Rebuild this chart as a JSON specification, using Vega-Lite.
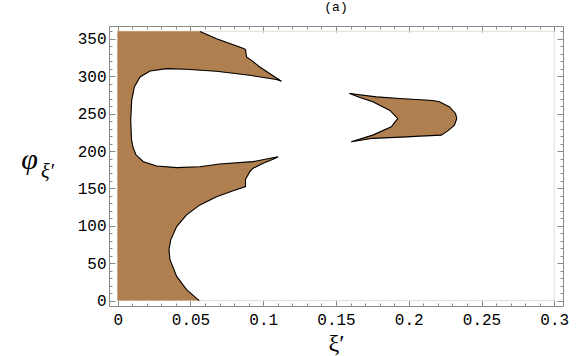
{
  "$schema": "https://vega.github.io/schema/vega-lite/v6.json",
  "width": 454,
  "height": 280,
  "autosize": "none",
  "padding": {"left": 109, "top": 26, "right": 13, "bottom": 50},
  "title": {"text": "(a)", "font": "Liberation Mono", "fontSize": 13, "fontWeight": "normal", "color": "black", "offset": 9},
  "config": {"view": {"stroke": "#8a8a8a", "strokeWidth": 1}},
  "datasets": {
    "box": [{"x": 0, "x2": 0.3, "y": 0, "y2": 360}],
    "regions": [
      {"poly": "L", "i": 1, "x": 0.056, "y": 0, "edge": true},
      {"poly": "L", "i": 2, "x": 0.0473, "y": 14.7, "edge": true},
      {"poly": "L", "i": 3, "x": 0.0405, "y": 32.4, "edge": true},
      {"poly": "L", "i": 4, "x": 0.0359, "y": 54.7, "edge": true},
      {"poly": "L", "i": 5, "x": 0.0352, "y": 68, "edge": true},
      {"poly": "L", "i": 6, "x": 0.0364, "y": 81.3, "edge": true},
      {"poly": "L", "i": 7, "x": 0.0405, "y": 99, "edge": true},
      {"poly": "L", "i": 8, "x": 0.0473, "y": 114.7, "edge": true},
      {"poly": "L", "i": 9, "x": 0.0565, "y": 128, "edge": true},
      {"poly": "L", "i": 10, "x": 0.0679, "y": 139, "edge": true},
      {"poly": "L", "i": 11, "x": 0.0793, "y": 147, "edge": true},
      {"poly": "L", "i": 12, "x": 0.0878, "y": 152.4, "edge": true},
      {"poly": "L", "i": 13, "x": 0.0878, "y": 162.2, "edge": true},
      {"poly": "L", "i": 14, "x": 0.0908, "y": 172.4, "edge": true},
      {"poly": "L", "i": 15, "x": 0.093, "y": 177, "edge": true},
      {"poly": "L", "i": 16, "x": 0.0999, "y": 183.6, "edge": true},
      {"poly": "L", "i": 17, "x": 0.1067, "y": 188.9, "edge": true},
      {"poly": "L", "i": 18, "x": 0.1102, "y": 192.4, "edge": true},
      {"poly": "L", "i": 19, "x": 0.093, "y": 185.8, "edge": true},
      {"poly": "L", "i": 20, "x": 0.0702, "y": 182.7, "edge": true},
      {"poly": "L", "i": 21, "x": 0.0565, "y": 179, "edge": true},
      {"poly": "L", "i": 22, "x": 0.0405, "y": 177.8, "edge": true},
      {"poly": "L", "i": 23, "x": 0.0268, "y": 180, "edge": true},
      {"poly": "L", "i": 24, "x": 0.0176, "y": 185.8, "edge": true},
      {"poly": "L", "i": 25, "x": 0.0125, "y": 195, "edge": true},
      {"poly": "L", "i": 26, "x": 0.0105, "y": 205, "edge": true},
      {"poly": "L", "i": 27, "x": 0.0095, "y": 214.7, "edge": true},
      {"poly": "L", "i": 28, "x": 0.0089, "y": 241, "edge": true},
      {"poly": "L", "i": 29, "x": 0.0096, "y": 268, "edge": true},
      {"poly": "L", "i": 30, "x": 0.0114, "y": 285.7, "edge": true},
      {"poly": "L", "i": 31, "x": 0.0153, "y": 299, "edge": true},
      {"poly": "L", "i": 32, "x": 0.0222, "y": 307, "edge": true},
      {"poly": "L", "i": 33, "x": 0.0336, "y": 310.2, "edge": true},
      {"poly": "L", "i": 34, "x": 0.0473, "y": 309.3, "edge": true},
      {"poly": "L", "i": 35, "x": 0.0679, "y": 306.7, "edge": true},
      {"poly": "L", "i": 36, "x": 0.0908, "y": 301.3, "edge": true},
      {"poly": "L", "i": 37, "x": 0.1091, "y": 295.6, "edge": true},
      {"poly": "L", "i": 38, "x": 0.1125, "y": 293.5, "edge": true},
      {"poly": "L", "i": 39, "x": 0.108, "y": 299, "edge": true},
      {"poly": "L", "i": 40, "x": 0.0976, "y": 312.4, "edge": true},
      {"poly": "L", "i": 41, "x": 0.0919, "y": 321.3, "edge": true},
      {"poly": "L", "i": 42, "x": 0.0885, "y": 325.7, "edge": true},
      {"poly": "L", "i": 43, "x": 0.0878, "y": 335.6, "edge": true},
      {"poly": "L", "i": 44, "x": 0.086, "y": 337.5, "edge": true},
      {"poly": "L", "i": 45, "x": 0.0679, "y": 350.2, "edge": true},
      {"poly": "L", "i": 46, "x": 0.0565, "y": 360, "edge": true},
      {"poly": "L", "i": 47, "x": 0, "y": 360, "edge": false},
      {"poly": "L", "i": 48, "x": 0, "y": 0, "edge": false},
      {"poly": "R", "i": 1, "x": 0.1594, "y": 276.9, "edge": true},
      {"poly": "R", "i": 2, "x": 0.1777, "y": 272.4, "edge": true},
      {"poly": "R", "i": 3, "x": 0.1937, "y": 270.2, "edge": true},
      {"poly": "R", "i": 4, "x": 0.2165, "y": 267.5, "edge": true},
      {"poly": "R", "i": 5, "x": 0.2211, "y": 265.8, "edge": true},
      {"poly": "R", "i": 6, "x": 0.228, "y": 259, "edge": true},
      {"poly": "R", "i": 7, "x": 0.2321, "y": 250.2, "edge": true},
      {"poly": "R", "i": 8, "x": 0.233, "y": 243.6, "edge": true},
      {"poly": "R", "i": 9, "x": 0.2314, "y": 234.7, "edge": true},
      {"poly": "R", "i": 10, "x": 0.2268, "y": 227, "edge": true},
      {"poly": "R", "i": 11, "x": 0.2223, "y": 221.3, "edge": true},
      {"poly": "R", "i": 12, "x": 0.2074, "y": 220, "edge": true},
      {"poly": "R", "i": 13, "x": 0.1983, "y": 219, "edge": true},
      {"poly": "R", "i": 14, "x": 0.1753, "y": 217, "edge": true},
      {"poly": "R", "i": 15, "x": 0.1605, "y": 212.4, "edge": true},
      {"poly": "R", "i": 16, "x": 0.1753, "y": 221.3, "edge": true},
      {"poly": "R", "i": 17, "x": 0.188, "y": 232.4, "edge": true},
      {"poly": "R", "i": 18, "x": 0.1925, "y": 243.6, "edge": true},
      {"poly": "R", "i": 19, "x": 0.1868, "y": 254.7, "edge": true},
      {"poly": "R", "i": 20, "x": 0.1753, "y": 265.8, "edge": true},
      {"poly": "R", "i": 21, "x": 0.166, "y": 272, "edge": true},
      {"poly": "R", "i": 22, "x": 0.1594, "y": 276.9, "edge": true}
    ]
  },
  "layer": [
    {
      "data": {"name": "box"},
      "mark": {"type": "rect", "fill": null, "stroke": "#e6ddd2", "strokeWidth": 1},
      "encoding": {
        "x": {"field": "x", "type": "quantitative",
          "scale": {"domain": [-0.006, 0.306], "nice": false, "zero": false},
          "axis": {"orient": "bottom", "values": [0,0.01,0.02,0.03,0.04,0.05,0.06,0.07,0.08,0.09,0.1,0.11,0.12,0.13,0.14,0.15,0.16,0.17,0.18,0.19,0.2,0.21,0.22,0.23,0.24,0.25,0.26,0.27,0.28,0.29,0.3],
            "format": "~g",
            "labelExpr": "abs(datum.value*20 - round(datum.value*20)) < 0.001 ? datum.label : ''",
            "tickSize": {"condition": {"test": "abs(datum.value*20 - round(datum.value*20)) < 0.001", "value": -6}, "value": -3},
            "tickColor": "#8a8a8a", "domain": false, "grid": false,
            "labelFont": "Liberation Mono", "labelFontSize": 16, "labelColor": "black", "labelPadding": 11,
            "labelFlush": false, "labelOverlap": false,
            "title": "ξ′", "titleFont": "Liberation Serif", "titleFontSize": 24, "titleFontWeight": "normal", "titleColor": "black",
            "titleY": 37, "titleBaseline": "middle"}},
        "x2": {"field": "x2"},
        "y": {"field": "y", "type": "quantitative",
          "scale": {"domain": [-7.2, 367.2], "nice": false, "zero": false},
          "axis": {"orient": "left", "values": [0,10,20,30,40,50,60,70,80,90,100,110,120,130,140,150,160,170,180,190,200,210,220,230,240,250,260,270,280,290,300,310,320,330,340,350,360],
            "labelExpr": "datum.value % 50 == 0 && datum.value < 360 ? datum.label : ''",
            "tickSize": {"condition": {"test": "datum.value % 50 == 0", "value": -6}, "value": -3},
            "tickColor": "#8a8a8a", "domain": false, "grid": false,
            "labelFont": "Liberation Mono", "labelFontSize": 16, "labelColor": "black", "labelPadding": 9,
            "labelFlush": false, "labelOverlap": false,
            "title": "φ", "titleFont": "Liberation Serif", "titleFontStyle": "italic", "titleFontSize": 30, "titleFontWeight": "normal", "titleColor": "black",
            "titleAngle": 0, "titleX": -80, "titleY": 133, "titleAlign": "center", "titleBaseline": "middle"}},
        "y2": {"field": "y2"}
      }
    },
    {
      "data": {"name": "regions"},
      "mark": {"type": "line", "fill": "#b07f4f", "stroke": "#b07f4f", "strokeWidth": 0.5, "interpolate": "linear"},
      "encoding": {
        "x": {"field": "x", "type": "quantitative",
          "axis": {"orient": "top", "values": [0,0.01,0.02,0.03,0.04,0.05,0.06,0.07,0.08,0.09,0.1,0.11,0.12,0.13,0.14,0.15,0.16,0.17,0.18,0.19,0.2,0.21,0.22,0.23,0.24,0.25,0.26,0.27,0.28,0.29,0.3],
            "labels": false,
            "tickSize": {"condition": {"test": "abs(datum.value*20 - round(datum.value*20)) < 0.001", "value": -6}, "value": -3},
            "tickColor": "#8a8a8a", "domain": false, "grid": false, "title": null}},
        "y": {"field": "y", "type": "quantitative",
          "axis": {"orient": "right", "values": [0,10,20,30,40,50,60,70,80,90,100,110,120,130,140,150,160,170,180,190,200,210,220,230,240,250,260,270,280,290,300,310,320,330,340,350,360],
            "labels": false,
            "tickSize": {"condition": {"test": "datum.value % 50 == 0", "value": -6}, "value": -3},
            "tickColor": "#8a8a8a", "domain": false, "grid": false,
            "title": "ξ′", "titleFont": "Liberation Serif", "titleFontStyle": "italic", "titleFontSize": 20, "titleFontWeight": "normal", "titleColor": "black",
            "titleAngle": 0, "titleX": -516, "titleY": 145, "titleAlign": "center", "titleBaseline": "middle"}},
        "detail": {"field": "poly"},
        "order": {"field": "i", "type": "quantitative"}
      }
    },
    {
      "data": {"name": "regions"},
      "transform": [{"filter": "datum.edge"}],
      "mark": {"type": "line", "stroke": "black", "strokeWidth": 1.1, "interpolate": "linear"},
      "encoding": {
        "x": {"field": "x", "type": "quantitative", "axis": null},
        "y": {"field": "y", "type": "quantitative", "axis": null},
        "detail": {"field": "poly"},
        "order": {"field": "i", "type": "quantitative"}
      }
    }
  ],
  "resolve": {"axis": {"x": "independent", "y": "independent"}}
}
